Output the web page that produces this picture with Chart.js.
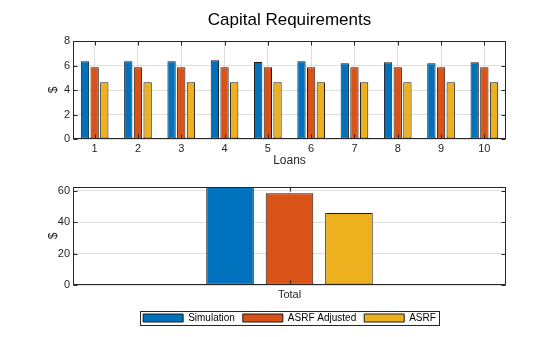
<!DOCTYPE html>
<html>
<head>
<meta charset="utf-8">
<script src="https://cdn.jsdelivr.net/npm/chart.js@4"></script>
<style>
  html, body { margin: 0; padding: 0; background: #fff; }
  #wrap { position: relative; width: 560px; height: 337px; }
  #top { position: absolute; left: 0; top: 0; }
  #bottom { position: absolute; left: 0; top: 170px; }
</style>
</head>
<body>
<div id="wrap">
  <canvas id="top" width="560" height="170"></canvas>
  <canvas id="bottom" width="560" height="167"></canvas>
</div>
<script>
// per-loan capital
const loans = [1, 2, 3, 4, 5, 6, 7, 8, 9, 10];
const simulation = [6.34, 6.34, 6.34, 6.43, 6.29, 6.34, 6.18, 6.26, 6.18, 6.26];
const asrfAdjusted = [5.86, 5.86, 5.86, 5.86, 5.86, 5.86, 5.86, 5.86, 5.86, 5.86];
const asrf = [4.64, 4.64, 4.64, 4.64, 4.64, 4.64, 4.64, 4.64, 4.64, 4.64];
const topTicks = [0, 2, 4, 6, 8];

// totals, bottom panel (simulation bar runs past the top of the axes)
const totalLabels = ["Total"];
const totalSimulation = [63.0];
const totalAsrfAdjusted = [58.5];
const totalAsrf = [45.8];
const bottomTicks = [0, 20, 40, 60];

const seriesNames = ["Simulation", "ASRF Adjusted", "ASRF"];
const seriesColors = ["#0072BD", "#D95319", "#EDB120"];

Chart.defaults.font.family = "'Liberation Sans', Arial, Helvetica, sans-serif";
Chart.defaults.color = "#262626";

const gridColor = "#dfdfdf";

// box round the axes + matlab style inward ticks
const framePlugin = {
  id: "frame",
  afterDatasetsDraw(chart) {
    const { ctx, chartArea: a, scales } = chart;
    const l = Math.round(a.left) + 0.5;
    const r = Math.round(a.right) - 0.5;
    const t = Math.round(a.top) + 0.5;
    const b = Math.round(a.bottom) - 0.5;
    ctx.save();
    ctx.strokeStyle = "#262626";
    ctx.lineWidth = 1;
    ctx.strokeRect(l, t, r - l, b - t);
    ctx.beginPath();
    scales.x.ticks.forEach((tk, i) => {
      const x = Math.round(scales.x.getPixelForTick(i)) + 0.5;
      ctx.moveTo(x, b); ctx.lineTo(x, b - 4);
      ctx.moveTo(x, t); ctx.lineTo(x, t + 4);
    });
    scales.y.ticks.forEach((tk) => {
      const y = Math.round(scales.y.getPixelForValue(tk.value)) + 0.5;
      ctx.moveTo(l, y); ctx.lineTo(l + 4, y);
      ctx.moveTo(r, y); ctx.lineTo(r - 4, y);
    });
    ctx.stroke();
    ctx.restore();
  },
};

// border round the legend items
const legendBoxPlugin = {
  id: "legendBox",
  afterDraw(chart) {
    const hb = chart.legend && chart.legend.legendHitBoxes;
    if (!hb || !hb.length) return;
    const left = Math.min(...hb.map((h) => h.left)) - 3;
    const right = Math.max(...hb.map((h) => h.left + h.width)) + 3;
    const top = hb[0].top - 2;
    const bottom = hb[0].top + hb[0].height + 2;
    const ctx = chart.ctx;
    ctx.save();
    ctx.strokeStyle = "#262626";
    ctx.lineWidth = 1;
    ctx.strokeRect(Math.round(left) + 0.5, Math.round(top) + 0.5,
      Math.round(right - left), Math.round(bottom - top));
    ctx.restore();
  },
};

function makeDatasets(values, cp, bp) {
  return values.map((v, i) => ({
    label: seriesNames[i],
    data: v,
    backgroundColor: seriesColors[i],
    borderColor: "#1a1a1a",
    borderWidth: 1,
    borderSkipped: false,
    categoryPercentage: cp,
    barPercentage: bp,
    clip: 0,
  }));
}

function yScale(ticks, max, title, titlePad) {
  return {
    min: 0,
    max: max,
    afterBuildTicks: (s) => { s.ticks = ticks.map((v) => ({ value: v })); },
    afterFit: (s) => { s.width = 73; },
    grid: { color: gridColor, drawTicks: false },
    border: { display: false },
    ticks: { padding: 3, font: { size: 11 } },
    title: { display: true, text: title, font: { size: 12 }, padding: { top: titlePad } },
  };
}

const topChart = new Chart("top", {
  type: "bar",
  data: {
    labels: loans,
    datasets: makeDatasets([simulation, asrfAdjusted, asrf], 0.67, 0.86),
  },
  plugins: [framePlugin],
  options: {
    responsive: false,
    animation: false,
    devicePixelRatio: 1,
    layout: { padding: { left: 0, right: 54, top: 0, bottom: 0 } },
    plugins: {
      legend: { display: false },
      tooltip: { enabled: false },
      title: {
        display: true,
        fullSize: false,
        text: "Capital Requirements",
        color: "#000",
        font: { size: 17, weight: "normal" },
        padding: { top: 10, bottom: 10.6 },
      },
    },
    scales: {
      x: {
        afterFit: (s) => { s.height = 31; },
        grid: { color: gridColor, drawTicks: false, offset: false },
        border: { display: false },
        ticks: { padding: 3, font: { size: 11 } },
        title: { display: true, text: "Loans", font: { size: 12 }, padding: { bottom: 2 } },
      },
      y: yScale(topTicks, 8, "$", 46),
    },
  },
});

const bottomChart = new Chart("bottom", {
  type: "bar",
  data: {
    labels: totalLabels,
    datasets: makeDatasets([totalSimulation, totalAsrfAdjusted, totalAsrf], 0.412, 0.8),
  },
  plugins: [framePlugin, legendBoxPlugin],
  options: {
    responsive: false,
    animation: false,
    devicePixelRatio: 1,
    layout: { padding: { left: 0, right: 54, top: 17, bottom: 4 } },
    plugins: {
      tooltip: { enabled: false },
      legend: {
        position: "bottom",
        fullSize: false,
        labels: {
          boxWidth: 40,
          boxHeight: 8,
          padding: 8,
          color: "#000",
          font: { size: 10 },
        },
      },
    },
    scales: {
      x: {
        afterFit: (s) => { s.height = 20; },
        grid: { color: gridColor, drawTicks: false, offset: false },
        border: { display: false },
        ticks: { padding: 3, font: { size: 11 } },
      },
      y: yScale(bottomTicks, 62.4, "$", 46),
    },
  },
});
</script>
</body>
</html>
